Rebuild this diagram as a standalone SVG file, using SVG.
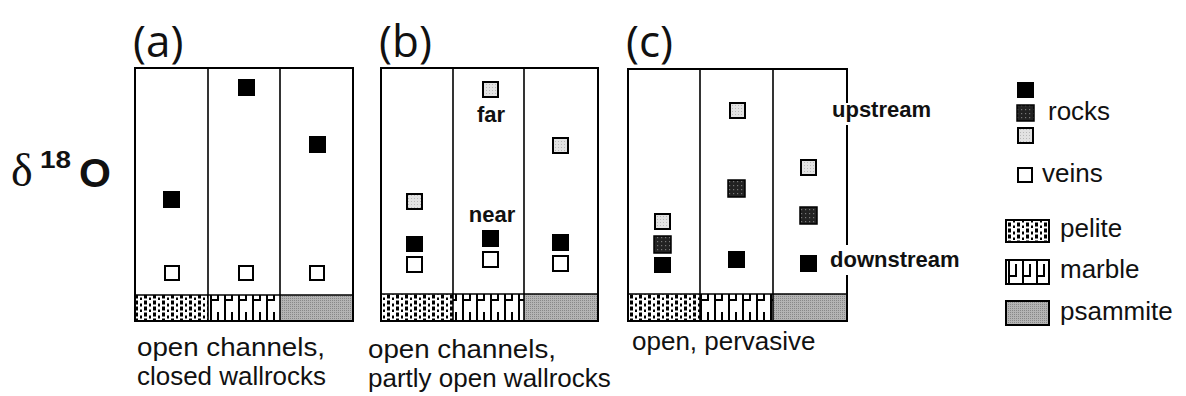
<svg xmlns="http://www.w3.org/2000/svg" width="1186" height="396" viewBox="0 0 1186 396">
<style>
.frame{fill:none;stroke:#000;stroke-width:2}
.div{stroke:#000;stroke-width:1.6}
.blk{fill:#000}
.open{fill:#fff;stroke:#000;stroke-width:2}
.lt{fill:url(#ltfill);stroke:#000;stroke-width:2}
.dk{fill:url(#dkfill);stroke:#000;stroke-width:1.5}
.cap{font-family:"Liberation Sans",Arial,sans-serif;font-size:26px;fill:#111}
.lbl{font-family:"Open Sans","DejaVu Sans",sans-serif;font-size:44px;fill:#111}
.bold{font-family:"Liberation Sans",Arial,sans-serif;font-size:22px;font-weight:bold;fill:#111}
.leg{font-family:"Liberation Sans",Arial,sans-serif;font-size:26px;fill:#111}
</style>
<defs>
<pattern id="ltfill" width="3" height="3" patternUnits="userSpaceOnUse">
<rect width="3" height="3" fill="#e2e2e2"/><rect width="1" height="1" fill="#b8b8b8"/>
</pattern>
<pattern id="dkfill" width="4" height="4" patternUnits="userSpaceOnUse">
<rect width="4" height="4" fill="#222"/><rect x="1" y="1" width="1.2" height="1.2" fill="#777"/>
</pattern>
<pattern id="pelite" x="0" y="0" width="9" height="12" patternUnits="userSpaceOnUse">
<rect width="9" height="12" fill="#fff"/>
<rect x="0" y="0.5" width="3" height="4" fill="#000"/>
<rect x="0" y="6.5" width="3" height="4" fill="#000"/>
<rect x="5" y="3.5" width="2" height="3" fill="#000"/>
<rect x="5" y="9.5" width="2" height="2.5" fill="#000"/>
</pattern>
<pattern id="marble" x="0" y="0" width="14" height="24" patternUnits="userSpaceOnUse">
<rect width="14" height="24" fill="#fff"/>
<rect x="0" y="0" width="2" height="24" fill="#000"/>
<rect x="7" y="0" width="2" height="12" fill="#000"/>
<rect x="0" y="11" width="9" height="2" fill="#000"/>
</pattern>
<pattern id="psam" width="2" height="2" patternUnits="userSpaceOnUse">
<rect width="2" height="2" fill="#b4b4b4"/><rect width="1" height="1" fill="#888"/>
</pattern>
</defs>
<rect width="1186" height="396" fill="#fff"/>

<g id="axis">
<text x="11" y="186" font-family="Liberation Serif,serif" font-size="46" fill="#111">δ</text>
<text x="40" y="168" font-family="Liberation Sans,Arial,sans-serif" font-size="24" font-weight="bold" fill="#111" textLength="31" lengthAdjust="spacingAndGlyphs">18</text>
<text x="79" y="187" font-family="Liberation Sans,Arial,sans-serif" font-size="41" font-weight="bold" fill="#111">O</text>
</g>

<g id="panel-a">
<text class="lbl" x="133" y="57">(a)</text>
<rect x="135" y="295" width="73" height="26" fill="url(#pelite)"/>
<rect x="208" y="295" width="72" height="26" fill="url(#marble)"/>
<rect x="280" y="295" width="73" height="26" fill="url(#psam)"/>
<rect class="frame" x="135" y="68" width="218" height="253"/>
<line class="div" x1="135" y1="295" x2="353" y2="295" stroke-width="2"/>
<line class="div" x1="208" y1="68" x2="208" y2="321"/>
<line class="div" x1="280" y1="68" x2="280" y2="321"/>
<rect class="blk" x="163" y="191" width="17" height="17"/>
<rect class="blk" x="238" y="79" width="17" height="17"/>
<rect class="blk" x="309" y="136" width="17" height="17"/>
<rect class="open" x="165" y="266" width="14" height="14"/>
<rect class="open" x="239" y="266" width="14" height="14"/>
<rect class="open" x="310" y="266" width="14" height="14"/>
<text class="cap" x="137" y="356" textLength="188" lengthAdjust="spacingAndGlyphs">open channels,</text>
<text class="cap" x="137" y="385" textLength="189" lengthAdjust="spacingAndGlyphs">closed wallrocks</text>
</g>

<g id="panel-b">
<text class="lbl" x="379" y="57">(b)</text>
<rect x="381" y="294" width="72" height="27" fill="url(#pelite)"/>
<rect x="453" y="294" width="71" height="27" fill="url(#marble)"/>
<rect x="524" y="294" width="74" height="27" fill="url(#psam)"/>
<rect class="frame" x="381" y="68" width="217" height="253"/>
<line class="div" x1="381" y1="294" x2="598" y2="294" stroke-width="2"/>
<line class="div" x1="453" y1="68" x2="453" y2="321"/>
<line class="div" x1="524" y1="68" x2="524" y2="321"/>
<rect class="lt" x="407" y="194" width="15" height="15"/>
<rect class="blk" x="406" y="236" width="17" height="16"/>
<rect class="open" x="407" y="257" width="15" height="15"/>
<rect class="lt" x="483" y="82" width="15" height="15"/>
<rect class="blk" x="482" y="230" width="17" height="17"/>
<rect class="open" x="483" y="252" width="15" height="15"/>
<rect class="lt" x="553" y="138" width="15" height="15"/>
<rect class="blk" x="552" y="234" width="17" height="17"/>
<rect class="open" x="553" y="256" width="15" height="15"/>
<text class="bold" x="491" y="122" text-anchor="middle">far</text>
<text class="bold" x="492" y="222" text-anchor="middle">near</text>
<text class="cap" x="368" y="358" textLength="188" lengthAdjust="spacingAndGlyphs">open channels,</text>
<text class="cap" x="368" y="387">partly open wallrocks</text>
</g>

<g id="panel-c">
<text class="lbl" x="626" y="57">(c)</text>
<rect x="628" y="294" width="72" height="27" fill="url(#pelite)"/>
<rect x="700" y="294" width="73" height="27" fill="url(#marble)"/>
<rect x="773" y="294" width="74" height="27" fill="url(#psam)"/>
<path class="frame" d="M847 103 V69 H628 V321 H847 V275 M847 125 V245"/>
<line class="div" x1="628" y1="294" x2="847" y2="294" stroke-width="2"/>
<line class="div" x1="700" y1="69" x2="700" y2="321"/>
<line class="div" x1="773" y1="69" x2="773" y2="321"/>
<rect class="lt" x="655" y="214" width="15" height="15"/>
<rect class="dk" x="654" y="236" width="17" height="17"/>
<rect class="blk" x="654" y="257" width="17" height="16"/>
<rect class="lt" x="730" y="103" width="15" height="15"/>
<rect class="dk" x="728" y="180" width="17" height="17"/>
<rect class="blk" x="728" y="251" width="17" height="17"/>
<rect class="lt" x="801" y="160" width="15" height="15"/>
<rect class="dk" x="800" y="207" width="17" height="17"/>
<rect class="blk" x="800" y="255" width="17" height="17"/>
<text class="bold" x="832" y="117">upstream</text>
<text class="bold" x="830" y="267">downstream</text>
<text class="cap" x="632" y="350">open, pervasive</text>
</g>

<g id="legend">
<rect class="blk" x="1017" y="82" width="17" height="16"/>
<rect class="dk" x="1017" y="105" width="17" height="16"/>
<rect class="lt" x="1018" y="128" width="15" height="15"/>
<text class="leg" x="1048" y="120">rocks</text>
<rect class="open" x="1018" y="168" width="14" height="14"/>
<text class="leg" x="1042" y="182">veins</text>
<rect x="1006" y="220" width="43" height="22" fill="url(#pelite)" stroke="#000" stroke-width="2"/>
<text class="leg" x="1060" y="237">pelite</text>
<rect x="1006" y="260" width="43" height="24" fill="url(#marble)" stroke="#000" stroke-width="2"/>
<text class="leg" x="1060" y="278">marble</text>
<rect x="1006" y="301" width="43" height="24" fill="url(#psam)" stroke="#000" stroke-width="2"/>
<text class="leg" x="1060" y="320">psammite</text>
</g>
</svg>
